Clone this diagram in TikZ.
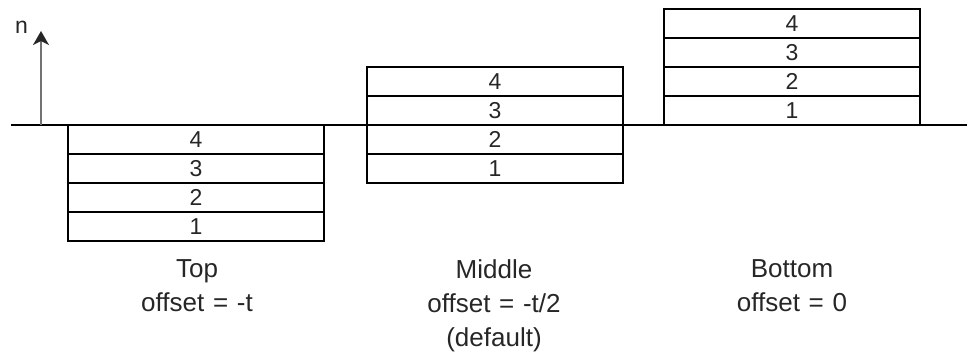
\documentclass[tikz,border=0pt]{standalone}
\usepackage{fontspec}
\setmainfont{Liberation Sans}
\usetikzlibrary{arrows.meta}
\begin{document}
\begin{tikzpicture}[x=1pt,y=-1pt,
  layer/.style={draw=black, line width=1.6pt, minimum width=256pt, minimum height=29pt,
    inner sep=0pt, outer sep=0pt, anchor=north west,
    font=\fontsize{23}{23}\selectfont, text=black!85},
  caption/.style={font=\fontsize{26}{34}\selectfont, text width=220pt, align=center,
    anchor=base, inner sep=0pt, text=black!85},
  refline/.style={draw=black, line width=1.5pt},
  normal/.style={draw=black!55, line width=1.4pt, -{Stealth[length=14pt,width=16pt,inset=4pt,color=black!85]}}]
\useasboundingbox (0,0) rectangle (969,354);

% reference surface
\coordinate (refL) at (11,125);
\coordinate (refR) at (967,125);
\draw[refline] (refL) -- (refR);

% normal direction
\coordinate (nbase) at (41,125);
\coordinate (ntip) at (41,31);
\draw[normal] (nbase) -- (ntip);
\node[font=\fontsize{23}{23}\selectfont, anchor=base, inner sep=0pt, text=black!85] (nlabel) at (21.5,33) {n};

% offset = -t : layers below the surface
\node[layer] (t4) at (68,125) {4};
\node[layer] (t3) at (68,154) {3};
\node[layer] (t2) at (68,183) {2};
\node[layer] (t1) at (68,212) {1};

% offset = -t/2 : layers centred on the surface
\node[layer] (m4) at (367,67) {4};
\node[layer] (m3) at (367,96) {3};
\node[layer] (m2) at (367,125) {2};
\node[layer] (m1) at (367,154) {1};

% offset = 0 : layers above the surface
\node[layer] (b4) at (664,9) {4};
\node[layer] (b3) at (664,38) {3};
\node[layer] (b2) at (664,67) {2};
\node[layer] (b1) at (664,96) {1};

% captions
\node[caption] (captop) at (197,277) {Top\\offset = -t};
\node[caption] (capmid) at (494,278) {Middle\\offset = -t/2\\(default)};
\node[caption] (capbot) at (792,277) {Bottom\\offset = 0};
\end{tikzpicture}
\end{document}
